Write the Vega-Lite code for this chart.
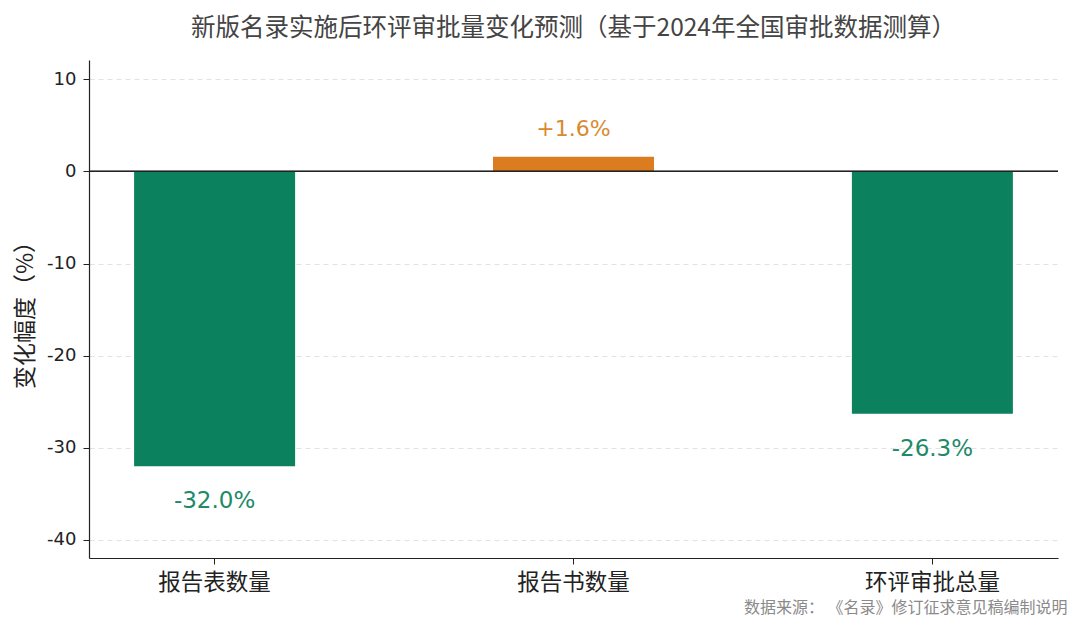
{
"$schema":"https://vega.github.io/schema/vega-lite/v6.json",
"width":969,"height":498,
"padding":{"left":89,"top":60,"right":22,"bottom":70},
"autosize":{"type":"none"},
"background":"white",
"config":{"view":{"stroke":null},"font":"Noto Sans CJK SC"},
"title":{"text":"新版名录实施后环评审批量变化预测（基于2024年全国审批数据测算）","fontSize":24.5,"fontWeight":"normal","color":"#444444","anchor":"middle","offset":19,"font":"Noto Sans CJK SC"},
"data":{"values":[
{"cat":"报告表数量","v":-32.0,"label":"-32.0%","c":"neg"},
{"cat":"报告书数量","v":1.6,"label":"+1.6%","c":"pos"},
{"cat":"环评审批总量","v":-26.3,"label":"-26.3%","c":"neg"}]},
"layer":[
{"mark":{"type":"bar","size":161},
"encoding":{
"x":{"field":"cat","type":"nominal","sort":null,"scale":{"paddingOuter":0.125,"paddingInner":0.55},
"axis":{"title":"数据来源： 《名录》修订征求意见稿编制说明","titleFontSize":16,"titleFontWeight":"normal","titleColor":"#8a8a8a","titleAnchor":"end","titleAlign":"right","titleBaseline":"middle","titleX":978,"titleY":49,"labelAngle":0,"labelFontSize":22.5,"labelColor":"#222222","labelPadding":7,"domainColor":"#222222","domainWidth":1.2,"tickColor":"#222222","tickSize":6,"labelFont":"Noto Sans CJK SC","grid":false}},
"y":{"field":"v","type":"quantitative","scale":{"domain":[-41.96,12.1],"nice":false,"zero":false},
"axis":{"title":"变化幅度（%）","titleFontSize":23,"titleFontWeight":"normal","titleColor":"#222222","titlePadding":9,"values":[-40,-30,-20,-10,0,10],"labelExpr":"replace(datum.label,'−','-')","labelFontSize":18,"labelColor":"#222222","labelFont":"DejaVu Sans","domainColor":"#222222","domainWidth":1.2,"tickColor":"#222222","tickSize":6,"gridColor":"#e2e2e2","gridDash":[5,4],"labelPadding":7}},
"color":{"field":"c","type":"nominal","legend":null,"scale":{"domain":["neg","pos"],"range":["#0b815e","#da7c1f"]}}}},
{"mark":{"type":"rule","color":"#222222","strokeWidth":1.2},"encoding":{"y":{"datum":0,"type":"quantitative"}}},
{"mark":{"type":"text","fontSize":23,"font":"DejaVu Sans","baseline":"middle"},
"transform":[{"filter":"datum.v<0"}],
"encoding":{"x":{"field":"cat","type":"nominal","sort":null},"y":{"field":"v","type":"quantitative"},"text":{"field":"label"},"yOffset":{"value":35},"color":{"value":"#1e8a68"}}},
{"mark":{"type":"text","fontSize":22,"font":"DejaVu Sans","baseline":"middle"},
"transform":[{"filter":"datum.v>0"}],
"encoding":{"x":{"field":"cat","type":"nominal","sort":null},"y":{"field":"v","type":"quantitative"},"text":{"field":"label"},"yOffset":{"value":-28},"color":{"value":"#d98a30"}}}
]}
